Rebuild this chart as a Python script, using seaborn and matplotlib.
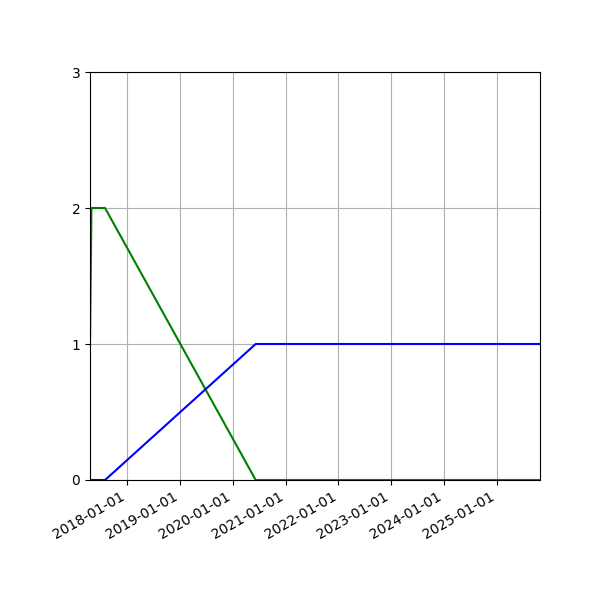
import seaborn as sns
import pandas as pd
import matplotlib
matplotlib.use('Agg')
import matplotlib.pyplot as plt
import matplotlib.dates as mdates

# 数据
dates = ['2017-04-20', '2017-04-30', '2017-08-02', '2020-06-08', '2025-10-25']
green_vals = [1, 2, 2, 0, 0]
blue_vals = [0, 0, 0, 1, 1]
y_ticks = [0, 1, 2, 3]

def draw():
    df = pd.DataFrame({'date': pd.to_datetime(dates), 'green': green_vals, 'blue': blue_vals})
    fig, ax = plt.subplots(figsize=(6, 6), dpi=100)
    sns.lineplot(x='date', y='green', data=df, color='g', ax=ax)
    sns.lineplot(x='date', y='blue', data=df, color='b', ax=ax)
    ax.set_xlim(df['date'].min(), df['date'].max())
    ax.set_ylim(0, 3)
    ax.set_yticks(y_ticks)
    ax.set_xlabel('')
    ax.set_ylabel('')
    ax.xaxis.set_major_locator(mdates.YearLocator())
    ax.xaxis.set_major_formatter(mdates.DateFormatter('%Y-%m-%d'))
    ax.grid(True)
    fig.autofmt_xdate()
    fig.subplots_adjust(left=0.15, right=0.9, top=0.88, bottom=0.2)
    fig.savefig('out.png')

if __name__ == '__main__':
    draw()
